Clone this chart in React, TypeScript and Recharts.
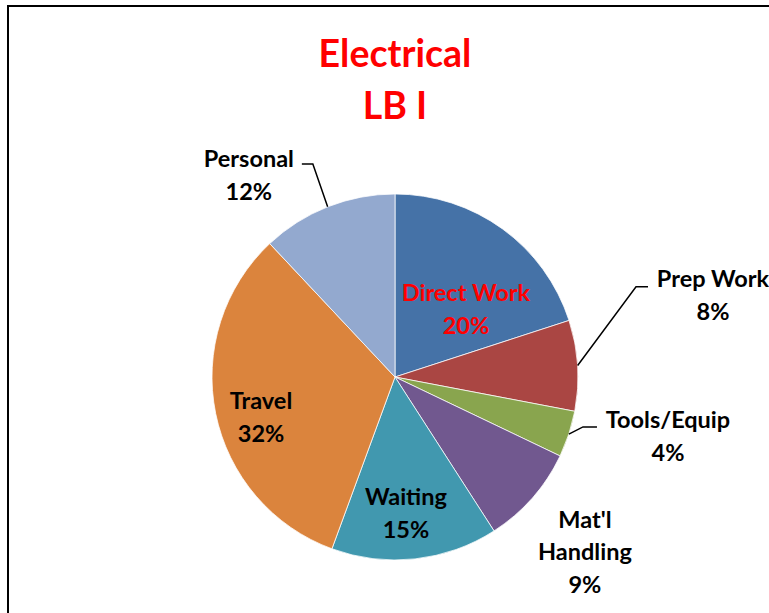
import { PieChart, Pie, Cell } from 'recharts';

const categories = ['Direct Work', 'Prep Work', 'Tools/Equip', "Mat'l\nHandling", 'Waiting', 'Travel', 'Personal'];
const shares = [20, 8, 4.1, 8.8, 14.7, 32.4, 12];
const sliceColors = ['#4572A7', '#AA4643', '#89A54E', '#71588F', '#4198AF', '#DB843D', '#93A9CF'];
const titleLines = ['Electrical', 'LB I'];

const data = categories.map((name, i) => ({ name, value: shares[i] }));

const FONT = 'Lato, "Open Sans", sans-serif';
const RADIAN = Math.PI / 180;
const LINE_GAP = 32.5;

// where each label sits: k = distance from centre as share of radius,
// turn = degrees clockwise away from the slice middle,
// leader = [x of near end, x of elbow, y] relative to the label centre
const placement: { k: number; turn: number; color?: string; leader?: number[] }[] = [
  { k: 0.537, turn: 10.2, color: '#FF0000' },
  { k: 1.795, turn: -10.9, leader: [-65, -77, -8] },
  { k: 1.526, turn: -6, leader: [-71, -85, -9] },
  { k: 1.41, turn: 1.2 },
  { k: 0.746, turn: 1.7 },
  { k: 0.764, turn: -5.1 },
  { k: 1.362, turn: -14.3, leader: [53, 64, -11] },
];

const renderLabel = (props: any) => {
  const { cx, cy, midAngle, outerRadius, index, percent, name } = props;
  const p = placement[index];
  const a = (midAngle - p.turn) * RADIAN;
  const lx = cx + outerRadius * p.k * Math.cos(a);
  const ly = cy - outerRadius * p.k * Math.sin(a);
  const lines = [...String(name).split('\n'), `${Math.round(percent * 100)}%`];
  const top = ly - (LINE_GAP * (lines.length - 1)) / 2;

  let leader = null;
  if (p.leader) {
    const m = midAngle * RADIAN;
    const ex = cx + outerRadius * Math.cos(m);
    const ey = cy - outerRadius * Math.sin(m);
    const [nearDx, elbowDx, dy] = p.leader;
    leader = (
      <polyline
        points={`${ex},${ey} ${lx + elbowDx},${ly + dy} ${lx + nearDx},${ly + dy}`}
        fill="none"
        stroke="#000"
        strokeWidth={1.5}
      />
    );
  }

  return (
    <g key={`lbl-${index}`}>
      {leader}
      <text
        textAnchor="middle"
        fill={p.color || '#000'}
        fontFamily={FONT}
        fontWeight="bold"
        fontSize={23.5}
      >
        {lines.map((t, i) => (
          <tspan key={i} x={lx} y={top + i * LINE_GAP + 8.5}>
            {t}
          </tspan>
        ))}
      </text>
    </g>
  );
};

export default function App() {
  return (
    <div style={{ position: 'absolute', left: 0, top: 0, width: 769, height: 613, background: '#fff' }}>
      <PieChart width={769} height={613} margin={{ top: 0, right: 0, bottom: 0, left: 0 }}>
        <rect x={8} y={6} width={800} height={700} fill="none" stroke="#000" strokeWidth={2} />
        <text textAnchor="middle" fill="#FF0000" fontFamily={FONT} fontWeight="bold" fontSize={37.5}>
          {titleLines.map((t, i) => (
            <tspan key={t} x={395} y={67 + i * 51.6}>
              {t}
            </tspan>
          ))}
        </text>
        <Pie
          data={data}
          dataKey="value"
          nameKey="name"
          cx={395}
          cy={377}
          outerRadius={183}
          startAngle={90}
          endAngle={-270}
          stroke="#ffffff"
          strokeWidth={0.75}
          label={renderLabel}
          labelLine={false}
          isAnimationActive={false}
        >
          {data.map((d, i) => (
            <Cell key={d.name} fill={sliceColors[i]} />
          ))}
        </Pie>
      </PieChart>
    </div>
  );
}
